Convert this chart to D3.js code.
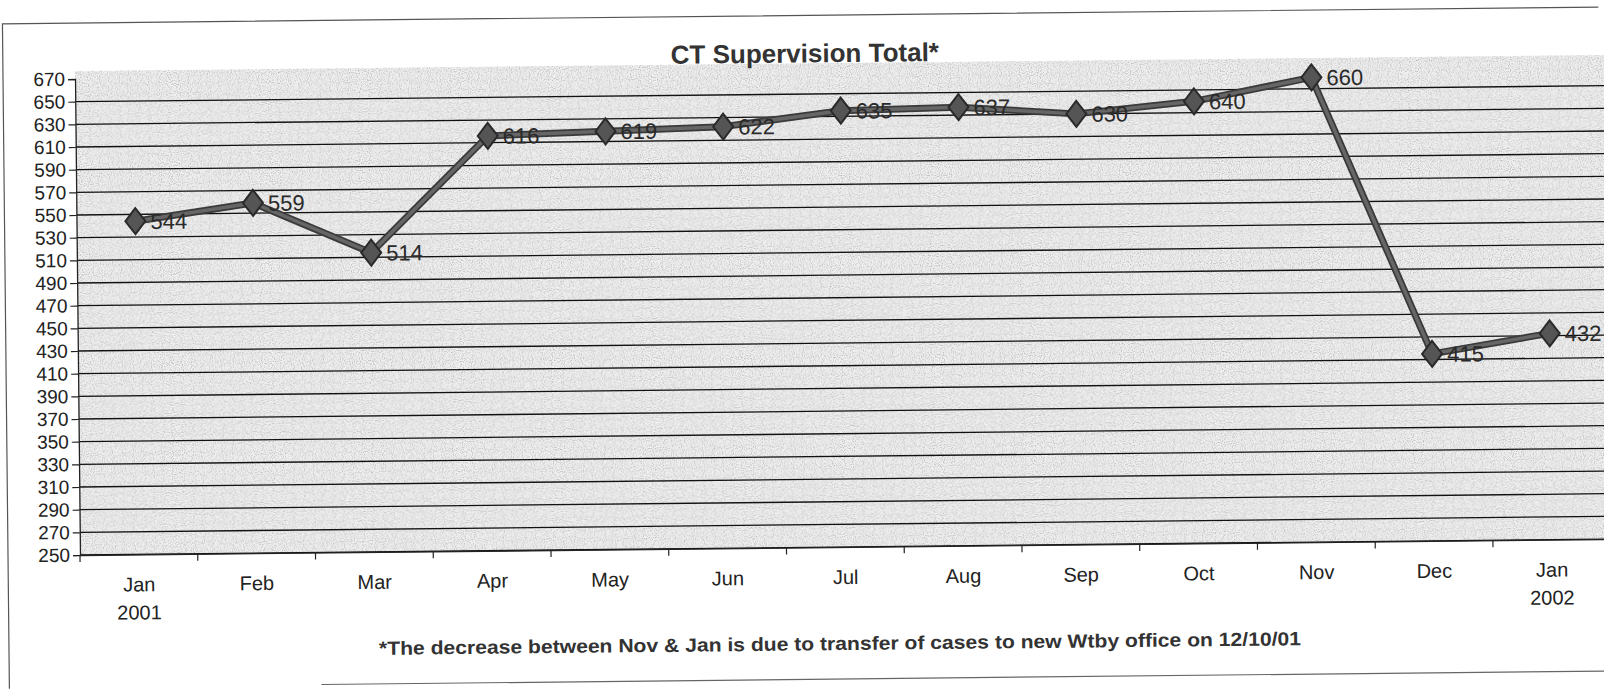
<!DOCTYPE html>
<html>
<head>
<meta charset="utf-8">
<script src="https://cdn.jsdelivr.net/npm/d3@7"></script>
<style>
  body { margin: 0; background: #fff; }
  svg { display: block; font-family: "Liberation Sans", Arial, sans-serif; }
</style>
</head>
<body>
<div id="chart"></div>
<script>
// chart data
const months = ['Jan|2001', 'Feb', 'Mar', 'Apr', 'May', 'Jun', 'Jul', 'Aug', 'Sep', 'Oct', 'Nov', 'Dec', 'Jan|2002'];
const totals = [544, 559, 514, 616, 619, 622, 635, 637, 630, 640, 660, 415, 432];
const yTicks = d3.range(250, 671, 20);

const width = 1604;
const height = 690;
const margin = { left: 80, top: 79, bottom: 555 };

const svg = d3.select('#chart')
  .append('svg')
  .attr('width', width)
  .attr('height', height);

// the scanned page is slightly tilted
const page = svg.append('g').attr('transform', 'rotate(-0.6, 80, 555)');

// speckle for the plot area
const defs = svg.append('defs');
const filter = defs.append('filter').attr('id', 'grain');
filter.append('feTurbulence')
  .attr('type', 'fractalNoise')
  .attr('baseFrequency', 0.9)
  .attr('numOctaves', 1)
  .attr('seed', 3);
filter.append('feColorMatrix')
  .attr('type', 'matrix')
  .attr('values', '0 0 0 0 0.35  0 0 0 0 0.35  0 0 0 0 0.35  0 0 0 -2.4 1.3');
filter.append('feComposite').attr('in2', 'SourceGraphic').attr('operator', 'in');

const x = d3.scaleBand()
  .domain(months)
  .range([margin.left, margin.left + 13 * 117.75]);

const y = d3.scaleLinear()
  .domain([250, 670])
  .range([margin.bottom, margin.top]);

// outer frame
page.append('path')
  .attr('d', `M1604,23 L8,23 L8,688`)
  .attr('fill', 'none')
  .attr('stroke', '#555')
  .attr('stroke-width', 1.2);
page.append('line')
  .attr('x1', 320).attr('x2', 1604)
  .attr('y1', 687).attr('y2', 687)
  .attr('stroke', '#666').attr('stroke-width', 1.2);

// plot background
page.append('rect')
  .attr('x', margin.left).attr('y', margin.top - 8)
  .attr('width', width - margin.left + 20)
  .attr('height', margin.bottom - margin.top + 8)
  .attr('fill', '#efefef');
page.append('rect')
  .attr('x', margin.left).attr('y', margin.top - 8)
  .attr('width', width - margin.left + 20)
  .attr('height', margin.bottom - margin.top + 8)
  .attr('fill', '#fff')
  .attr('filter', 'url(#grain)')
  .attr('opacity', 0.85);

// gridlines
page.append('g')
  .selectAll('line')
  .data(yTicks.filter(d => d < 670))
  .join('line')
  .attr('x1', margin.left)
  .attr('x2', width + 20)
  .attr('y1', d => y(d))
  .attr('y2', d => y(d))
  .attr('stroke', '#111')
  .attr('stroke-width', 1.3);

// y axis
const yAxis = page.append('g')
  .attr('transform', `translate(${margin.left},0)`)
  .call(d3.axisLeft(y).tickValues(yTicks).tickSize(7).tickPadding(3));
yAxis.select('.domain').attr('stroke', '#222').attr('stroke-width', 1.3);
yAxis.selectAll('.tick line').attr('stroke', '#222').attr('stroke-width', 1.2);
yAxis.selectAll('.tick text')
  .attr('font-size', 19)
  .attr('fill', '#222')
  .attr('font-family', '"Liberation Sans", Arial, sans-serif');

// x axis
const xAxis = page.append('g')
  .attr('transform', `translate(0,${margin.bottom})`)
  .call(d3.axisBottom(x).tickSize(0).tickFormat(''));
xAxis.select('.domain').attr('stroke', '#222').attr('stroke-width', 1.3);
page.append('g')
  .selectAll('line')
  .data(months)
  .join('line')
  .attr('x1', d => x(d))
  .attr('x2', d => x(d))
  .attr('y1', margin.bottom)
  .attr('y2', margin.bottom + 7)
  .attr('stroke', '#222')
  .attr('stroke-width', 1.2);
const xLabels = page.append('g')
  .selectAll('text')
  .data(months)
  .join('text')
  .attr('x', d => x(d) + x.bandwidth() / 2)
  .attr('y', margin.bottom + 37)
  .attr('text-anchor', 'middle')
  .attr('font-size', 20)
  .attr('fill', '#222');
xLabels.each(function (d) {
  const parts = d.split('|');
  d3.select(this).selectAll('tspan')
    .data(parts)
    .join('tspan')
    .attr('x', x(d) + x.bandwidth() / 2)
    .attr('dy', (p, i) => (i === 0 ? 0 : 28))
    .text(p => p);
});

// line + markers
const cx = (d, i) => x(months[i]) + x.bandwidth() / 2;
const line = d3.line()
  .x((d, i) => cx(d, i))
  .y(d => y(d));

page.append('path')
  .datum(totals)
  .attr('d', line)
  .attr('fill', 'none')
  .attr('stroke', '#3a3a3a')
  .attr('stroke-width', 7)
  .attr('stroke-linejoin', 'round');
page.append('path')
  .datum(totals)
  .attr('d', line)
  .attr('fill', 'none')
  .attr('stroke', '#666')
  .attr('stroke-width', 3.5)
  .attr('stroke-linejoin', 'round');

page.append('g')
  .selectAll('path')
  .data(totals)
  .join('path')
  .attr('transform', (d, i) => `translate(${cx(d, i)},${y(d)})`)
  .attr('d', 'M0,-13 L10,0 L0,13 L-10,0 Z')
  .attr('fill', '#555')
  .attr('stroke', '#2a2a2a')
  .attr('stroke-width', 2);

// value labels
page.append('g')
  .selectAll('text')
  .data(totals)
  .join('text')
  .attr('x', (d, i) => cx(d, i) + 15)
  .attr('y', d => y(d) + 8)
  .attr('font-size', 22)
  .attr('fill', '#2a2a2a')
  .text(d => d);

// title and footnote
page.append('text')
  .attr('x', 810)
  .attr('y', 70)
  .attr('text-anchor', 'middle')
  .attr('font-size', 26)
  .attr('font-weight', 'bold')
  .attr('fill', '#333')
  .text('CT Supervision Total*');

page.append('text')
  .attr('x', 839)
  .attr('y', 658)
  .attr('text-anchor', 'middle')
  .attr('font-size', 19)
  .attr('font-weight', 'bold')
  .attr('fill', '#333')
  .attr('textLength', 922)
  .attr('lengthAdjust', 'spacingAndGlyphs')
  .text('*The decrease between Nov & Jan is due to transfer of cases to new Wtby office on 12/10/01');
</script>
</body>
</html>
